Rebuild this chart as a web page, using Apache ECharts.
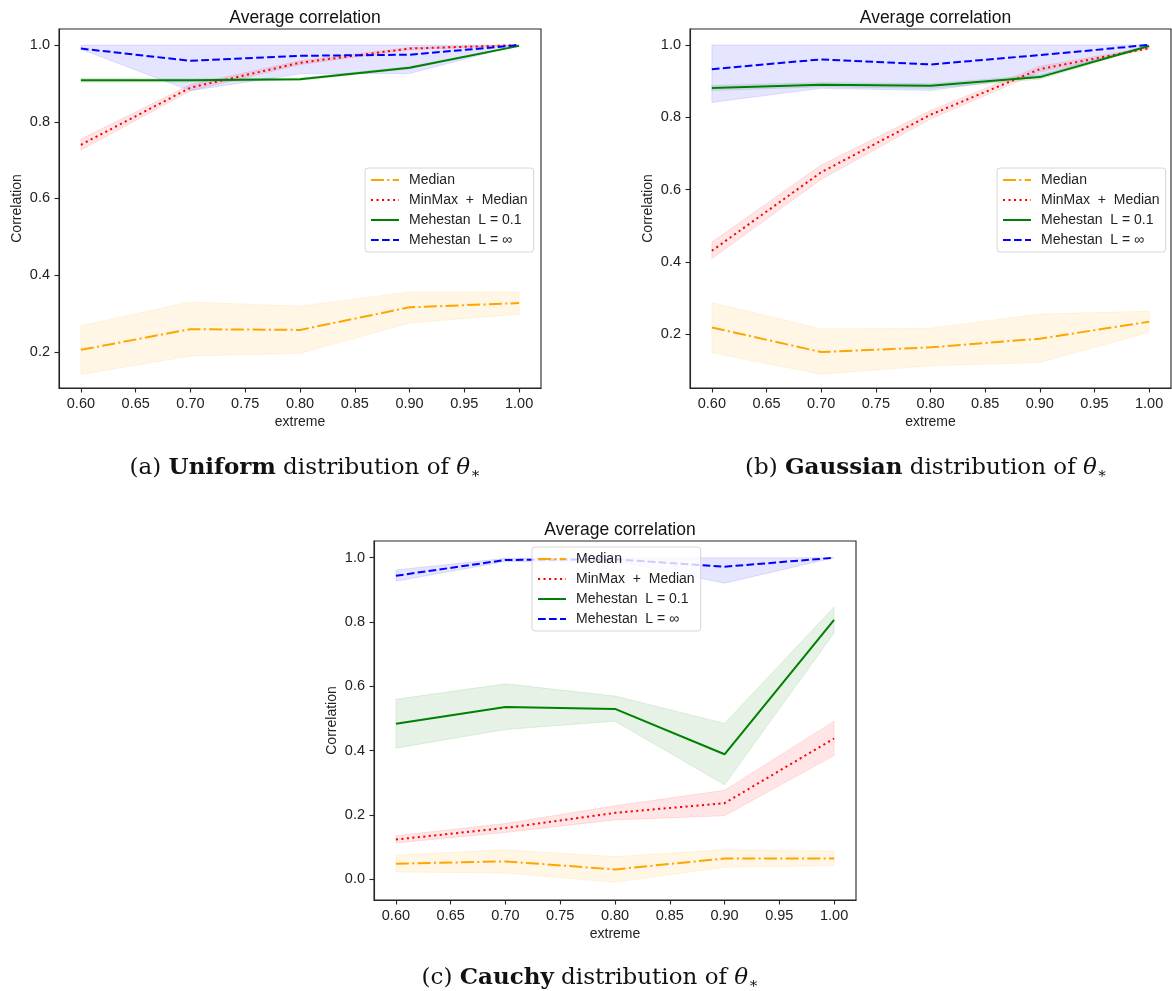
<!DOCTYPE html>
<html>
<head>
<meta charset="utf-8">
<script src="https://cdn.jsdelivr.net/npm/echarts@6/dist/echarts.min.js"></script>
<style>
html,body{margin:0;padding:0;background:#fff;}
#chart{width:1172px;height:991px;}
</style>
</head>
<body>
<div id="chart"></div>
<script>
// ---- data ----
const extremes = [0.60, 0.70, 0.80, 0.90, 1.00];
const xTicks = [0.60, 0.65, 0.70, 0.75, 0.80, 0.85, 0.90, 0.95, 1.00];
const yTicksAB = [0.2, 0.4, 0.6, 0.8, 1.0];
const yTicksC = [0.0, 0.2, 0.4, 0.6, 0.8, 1.0];
const seriesNames = ['Median', 'MinMax  +  Median', 'Mehestan  L = 0.1', 'Mehestan  L = \u221E'];

// Panel (a) Uniform
const aMedian   = [0.205, 0.259, 0.257, 0.316, 0.327];
const aMedianLo = [0.141, 0.189, 0.196, 0.275, 0.298];
const aMedianHi = [0.268, 0.330, 0.319, 0.356, 0.356];
const aMinMax   = [0.740, 0.889, 0.954, 0.991, 1.000];
const aMinMaxLo = [0.726, 0.881, 0.949, 0.988, 0.998];
const aMinMaxHi = [0.755, 0.897, 0.959, 0.994, 1.000];
const aL01      = [0.908, 0.908, 0.911, 0.941, 0.998];
const aL01Lo    = [0.903, 0.904, 0.908, 0.938, 0.997];
const aL01Hi    = [0.913, 0.912, 0.914, 0.944, 0.999];
const aLinf     = [0.991, 0.959, 0.972, 0.975, 1.000];
const aLinfLo   = [0.989, 0.881, 0.925, 0.926, 1.000];
const aLinfHi   = [1.000, 1.000, 1.000, 1.000, 1.000];

// Panel (b) Gaussian
const bMedian   = [0.219, 0.151, 0.164, 0.188, 0.235];
const bMedianLo = [0.149, 0.090, 0.113, 0.122, 0.206];
const bMedianHi = [0.288, 0.215, 0.217, 0.256, 0.264];
const bMinMax   = [0.431, 0.648, 0.807, 0.933, 0.991];
const bMinMaxLo = [0.409, 0.628, 0.795, 0.925, 0.988];
const bMinMaxHi = [0.455, 0.668, 0.819, 0.941, 0.994];
const bL01      = [0.881, 0.890, 0.887, 0.911, 0.997];
const bL01Lo    = [0.874, 0.884, 0.880, 0.905, 0.995];
const bL01Hi    = [0.888, 0.896, 0.893, 0.917, 0.999];
const bLinf     = [0.933, 0.960, 0.946, 0.972, 1.000];
const bLinfLo   = [0.841, 0.880, 0.874, 0.915, 1.000];
const bLinfHi   = [1.000, 1.000, 1.000, 1.000, 1.000];

// Panel (c) Cauchy
const cMedian   = [0.049, 0.056, 0.031, 0.065, 0.065];
const cMedianLo = [0.023, 0.020, -0.009, 0.038, 0.043];
const cMedianHi = [0.076, 0.092, 0.071, 0.092, 0.088];
const cMinMax   = [0.124, 0.160, 0.207, 0.237, 0.438];
const cMinMaxLo = [0.113, 0.146, 0.185, 0.198, 0.385];
const cMinMaxHi = [0.136, 0.174, 0.229, 0.277, 0.492];
const cL01      = [0.484, 0.536, 0.530, 0.389, 0.807];
const cL01Lo    = [0.408, 0.466, 0.492, 0.294, 0.766];
const cL01Hi    = [0.560, 0.608, 0.570, 0.485, 0.847];
const cLinf     = [0.944, 0.993, 0.995, 0.972, 1.000];
const cLinfLo   = [0.927, 0.988, 0.990, 0.921, 1.000];
const cLinfHi   = [0.962, 0.998, 1.000, 1.000, 1.000];

const captions = [
  '(a) {b|Uniform} distribution of {i|\u03B8}{s|\u2217}',
  '(b) {b|Gaussian} distribution of {i|\u03B8}{s|\u2217}',
  '(c) {b|Cauchy} distribution of {i|\u03B8}{s|\u2217}'
];

// ---- styles ----
const colors = ['#ffa500', '#ff0000', '#008000', '#0000ff'];
const fills  = ['rgba(255,165,0,0.1)', 'rgba(255,0,0,0.1)', 'rgba(0,128,0,0.1)', 'rgba(0,0,255,0.1)'];
const dashes = [[13, 3.3, 2.1, 3.3], [2.1, 3.4], 'solid', [7.7, 3.3]];
const FONT = 'Liberation Sans, Arial, sans-serif';
const SERIF = 'DejaVu Serif, serif';

const panels = [
  {grid: {left: 59, top: 29, width: 482, height: 359}, ymin: 0.1055, ymax: 1.042, yTicks: yTicksAB,
   lines: [aMedian, aMinMax, aL01, aLinf], los: [aMedianLo, aMinMaxLo, aL01Lo, aLinfLo], his: [aMedianHi, aMinMaxHi, aL01Hi, aLinfHi],
   legend: {left: 365, top: 168}},
  {grid: {left: 690, top: 29, width: 481, height: 359}, ymin: 0.0517, ymax: 1.044, yTicks: yTicksAB,
   lines: [bMedian, bMinMax, bL01, bLinf], los: [bMedianLo, bMinMaxLo, bL01Lo, bLinfLo], his: [bMedianHi, bMinMaxHi, bL01Hi, bLinfHi],
   legend: {left: 997, top: 168}},
  {grid: {left: 374, top: 541, width: 482, height: 359}, ymin: -0.064, ymax: 1.052, yTicks: yTicksC,
   lines: [cMedian, cMinMax, cL01, cLinf], los: [cMedianLo, cMinMaxLo, cL01Lo, cLinfLo], his: [cMedianHi, cMinMaxHi, cL01Hi, cLinfHi],
   legend: {left: 532, top: 547}}
];
const captionPos = [{x: 300, y: 450}, {x: 921, y: 450}, {x: 585, y: 960}];

const option = {
  backgroundColor: '#fff',
  animation: false,
  grid: [], xAxis: [], yAxis: [], series: [], legend: [], title: []
};

panels.forEach((p, k) => {
  option.grid.push(Object.assign({show: true, borderColor: '#262626', borderWidth: 1.1, backgroundColor: 'transparent', containLabel: false}, p.grid));
  option.xAxis.push({
    type: 'value', gridIndex: k, min: 0.58, max: 1.02,
    name: 'extreme', nameLocation: 'middle', nameGap: 27,
    nameTextStyle: {fontFamily: FONT, fontSize: 14, color: '#222'},
    axisLine: {show: true, onZero: false, lineStyle: {color: '#262626', width: 1.1}},
    axisTick: {show: true, length: 4.5, customValues: xTicks, lineStyle: {color: '#262626', width: 1.1}},
    axisLabel: {customValues: xTicks, margin: 8, fontFamily: FONT, fontSize: 14.5, color: '#222',
                formatter: v => v.toFixed(2)},
    splitLine: {show: false}
  });
  option.yAxis.push({
    type: 'value', gridIndex: k, min: p.ymin, max: p.ymax,
    name: 'Correlation', nameLocation: 'middle', nameGap: 35, nameRotate: 90,
    nameTextStyle: {fontFamily: FONT, fontSize: 14, color: '#222'},
    axisLine: {show: true, onZero: false, lineStyle: {color: '#262626', width: 1.1}},
    axisTick: {show: true, length: 4.5, customValues: p.yTicks, lineStyle: {color: '#262626', width: 1.1}},
    axisLabel: {customValues: p.yTicks, margin: 9, fontFamily: FONT, fontSize: 14.5, color: '#222',
                formatter: v => v.toFixed(1)},
    splitLine: {show: false}
  });
  option.title.push({
    text: 'Average correlation', left: p.grid.left + p.grid.width / 2, textAlign: 'center',
    top: p.grid.top - 25,
    textStyle: {fontFamily: FONT, fontSize: 17.5, fontWeight: 'normal', color: '#111'}
  });
  for (let s = 0; s < 4; s++) {
    const lo = p.los[s], hi = p.his[s];
    option.series.push({
      type: 'custom', xAxisIndex: k, yAxisIndex: k, silent: true, z: 1,
      data: [[extremes[0], lo[0]]],
      renderItem: (params, api) => {
        const pts = [];
        for (let i = 0; i < extremes.length; i++) pts.push(api.coord([extremes[i], hi[i]]));
        for (let i = extremes.length - 1; i >= 0; i--) pts.push(api.coord([extremes[i], lo[i]]));
        return {type: 'polygon', shape: {points: pts},
                style: {fill: fills[s], stroke: fills[s], lineWidth: 1}};
      }
    });
    option.series.push({
      type: 'line', name: seriesNames[s], xAxisIndex: k, yAxisIndex: k, z: 3,
      symbol: 'none', showSymbol: false, silent: true,
      data: extremes.map((x, i) => [x, p.lines[s][i]]),
      lineStyle: {color: colors[s], width: 2, type: dashes[s], cap: 'butt'},
      itemStyle: {color: colors[s]}
    });
  }
  option.legend.push({
    data: seriesNames, orient: 'vertical', left: p.legend.left, top: p.legend.top,
    itemWidth: 28, itemHeight: 14, itemGap: 6, padding: [5, 6, 5, 5],
    backgroundColor: 'rgba(255,255,255,0.8)', borderColor: '#d6d6d6', borderWidth: 1, borderRadius: 3,
    selectedMode: false,
    itemStyle: {opacity: 0},
    textStyle: {fontFamily: FONT, fontSize: 14, color: '#222', padding: [0, 0, 0, 5]}
  });
});

captions.forEach((c, k) => {
  option.title.push({
    text: c, left: captionPos[k].x, top: captionPos[k].y, textAlign: 'center',
    textStyle: {
      fontFamily: SERIF, fontSize: 23, fontWeight: 'normal', color: '#111',
      rich: {
        b: {fontFamily: SERIF, fontSize: 23, fontWeight: 'bold', color: '#111'},
        i: {fontFamily: SERIF, fontSize: 23, fontStyle: 'italic', color: '#111'},
        s: {fontFamily: SERIF, fontSize: 15, color: '#111', padding: [12, 0, 0, 0]}
      }
    }
  });
});

const chart = echarts.init(document.getElementById('chart'), null, {renderer: 'canvas'});
chart.setOption(option);
</script>
</body>
</html>
